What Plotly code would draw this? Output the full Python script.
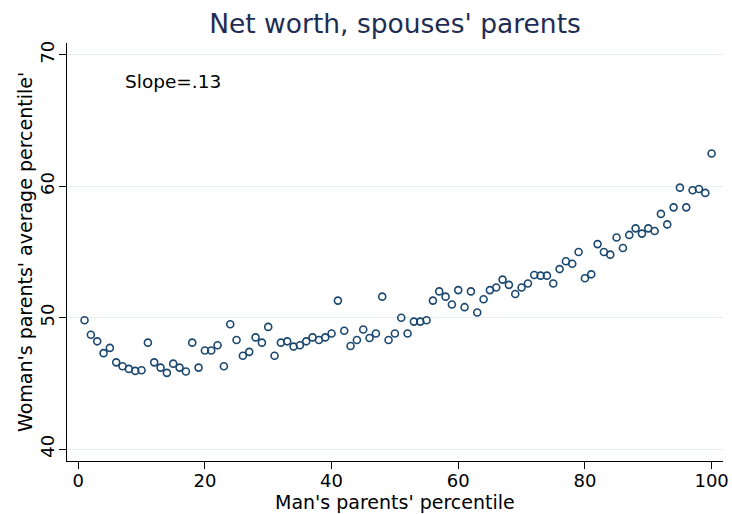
import plotly.graph_objects as go

x_pct = list(range(1, 101))
y_avg = [
    49.8, 48.7, 48.2, 47.3, 47.7, 46.6, 46.3, 46.1, 45.95, 46.0,
    48.1, 46.6, 46.2, 45.8, 46.5, 46.2, 45.9, 48.1, 46.2, 47.5,
    47.5, 47.9, 46.3, 49.5, 48.3, 47.1, 47.4, 48.5, 48.1, 49.3,
    47.1, 48.1, 48.2, 47.8, 47.9, 48.2, 48.5, 48.3, 48.5, 48.8,
    51.3, 49.0, 47.85, 48.3, 49.1, 48.45, 48.8, 51.6, 48.3, 48.8,
    50.0, 48.8, 49.7, 49.7, 49.8, 51.3, 52.0, 51.6, 51.0, 52.1,
    50.8, 52.0, 50.4, 51.4, 52.1, 52.3, 52.9, 52.5, 51.8, 52.3,
    52.6, 53.25, 53.2, 53.2, 52.6, 53.7, 54.3, 54.1, 55.0, 53.0,
    53.3, 55.6, 55.0, 54.8, 56.1, 55.3, 56.3, 56.8, 56.4, 56.8,
    56.6, 57.9, 57.1, 58.4, 59.9, 58.4, 59.7, 59.8, 59.5, 62.5,
]
x_ticks = [0, 20, 40, 60, 80, 100]
y_ticks = [40, 50, 60, 70]
title = "Net worth, spouses' parents"
x_title = "Man's parents' percentile"
y_title = "Woman's parents' average percentile'"
slope_text = "Slope=.13"

navy = "#1a476f"
font = "DejaVu Sans"

fig = go.Figure(go.Scatter(
    x=x_pct, y=y_avg, mode="markers",
    marker=dict(symbol="circle-open", size=7, color=navy, line=dict(width=1.6, color=navy)),
    showlegend=False,
))

fig.add_annotation(x=7, y=67.95, text=slope_text, showarrow=False,
                   xanchor="left", yanchor="middle",
                   font=dict(family=font, size=18.5, color="black"))

# axis titles placed as annotations for precise positioning
fig.add_annotation(x=0.5, y=-0.097, xref="paper", yref="paper", text=x_title,
                   showarrow=False, xanchor="center", yanchor="middle",
                   font=dict(family=font, size=19, color="black"))
fig.add_annotation(x=-0.064, y=0.5, xref="paper", yref="paper", text=y_title,
                   showarrow=False, xanchor="center", yanchor="middle", textangle=-90,
                   font=dict(family=font, size=19, color="black"))

fig.update_layout(
    width=732, height=514,
    paper_bgcolor="white", plot_bgcolor="white",
    margin=dict(l=67, r=9, t=43, b=53, autoexpand=False),
    title=dict(text=title, x=0.5, xref="paper", y=490/514, yref="container",
               xanchor="center", yanchor="middle",
               font=dict(family=font, size=26.5, color="#1e2d53")),
    font=dict(family=font, size=18, color="black"),
    xaxis=dict(range=[-1.77, 101.8], tickvals=x_ticks, showgrid=False, zeroline=False,
               showline=True, linecolor="black", linewidth=1,
               ticks="outside", ticklen=7, tickcolor="black",
               ticklabelstandoff=-4,
               tickfont=dict(size=18), automargin=False),
    yaxis=dict(range=[39.09, 70.91], tickvals=y_ticks, showgrid=True,
               gridcolor="#e6eeef", gridwidth=1, zeroline=False,
               showline=True, linecolor="black", linewidth=1,
               ticks="outside", ticklen=7, tickcolor="black",
               tickangle=-90, ticklabelstandoff=-2,
               tickfont=dict(size=18), automargin=False),
)

fig.write_html("out.html", config={"displayModeBar": False},
               post_script="document.body.style.margin='0px';")
